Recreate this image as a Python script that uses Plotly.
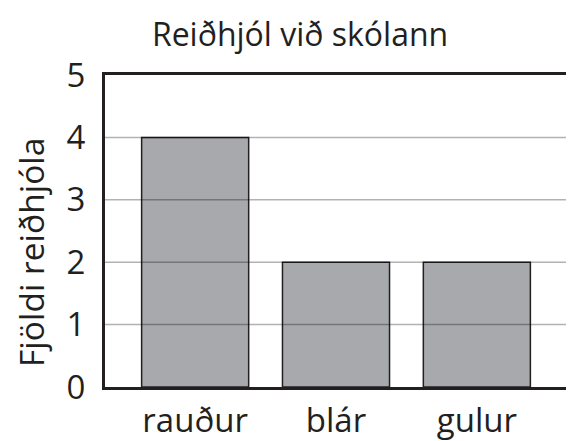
import plotly.graph_objects as go

categories = ["rauður", "blár", "gulur"]
values = [4, 2, 2]
y_ticks = [0, 1, 2, 3, 4, 5]
grid_levels = [1, 2, 3, 4]

title_text = "Reiðhjól við skólann"
y_title = "Fjöldi reiðhjóla"

FONT = "Open Sans"
DARK = "#231f20"

fig = go.Figure()
fig.add_trace(go.Bar(
    x=list(range(len(categories))),
    y=values,
    width=0.76,
    marker=dict(color="#a7a9ac", line=dict(color=DARK, width=1.5)),
    hoverinfo="skip",
))

shapes = []
for g in grid_levels:
    shapes.append(dict(type="line", xref="paper", yref="y", x0=0, x1=1, y0=g, y1=g,
                       line=dict(color="rgba(0,0,0,0.3)", width=1.5), layer="above"))

# page body has an 8px default margin, so the figure is sized to fit the window
fig.update_layout(
    width=566, height=433,
    margin=dict(l=97, r=7, t=67, b=54, autoexpand=False),
    paper_bgcolor="white", plot_bgcolor="white",
    showlegend=False,
    shapes=shapes,
    title=dict(text=title_text, x=0.516, xanchor="center", y=0.938, yanchor="middle",
               font=dict(family=FONT, size=32, color=DARK)),
    annotations=[dict(text=y_title, xref="paper", yref="paper", x=-0.16, y=0.43,
                      xanchor="center", yanchor="middle", textangle=-90, showarrow=False,
                      font=dict(family=FONT, size=33.5, color=DARK))],
    xaxis=dict(
        range=[-0.64, 2.64],
        tickmode="array",
        tickvals=list(range(len(categories))),
        ticktext=categories,
        showgrid=False, zeroline=False, automargin=False,
        showline=True, mirror=True, linecolor=DARK, linewidth=3,
        ticks="outside", ticklen=2, tickcolor="rgba(0,0,0,0)",
        tickfont=dict(family=FONT, size=33, color=DARK),
    ),
    yaxis=dict(
        range=[0, 5],
        tickmode="array",
        tickvals=y_ticks,
        showgrid=False, zeroline=False, automargin=False,
        showline=True, mirror=True, linecolor=DARK, linewidth=3,
        ticks="outside", ticklen=10, tickcolor="rgba(0,0,0,0)",
        tickfont=dict(family=FONT, size=33, color=DARK),
    ),
)

fig.write_html("out.html")
